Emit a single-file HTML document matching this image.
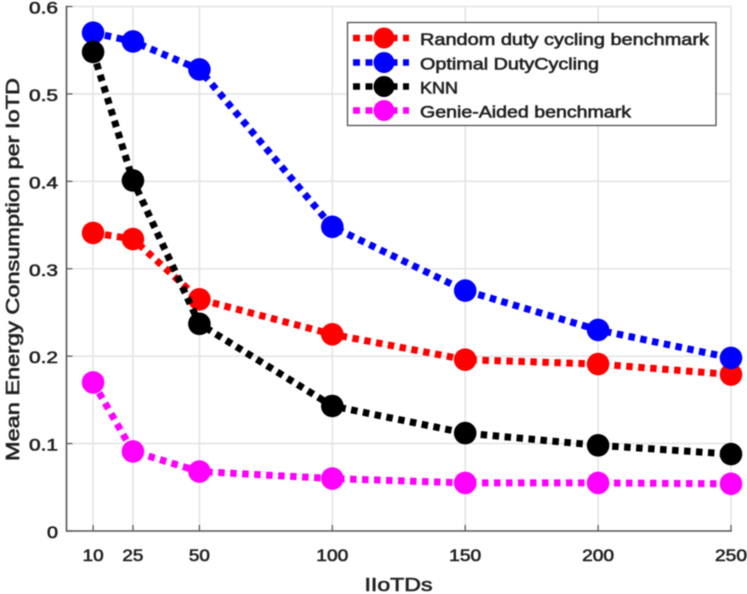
<!DOCTYPE html>
<html>
<head>
<meta charset="utf-8">
<title>Mean Energy Consumption per IoTD</title>
<style>
html,body{margin:0;padding:0;background:#fff;width:747px;height:594px;overflow:hidden}
svg{display:block;filter:blur(0.5px)}
text{font-family:"Liberation Sans",sans-serif;fill:#222;stroke:#222;stroke-width:0.6px}
</style>
</head>
<body>
<svg id="chart" width="747" height="594" viewBox="0 0 747 594" xmlns="http://www.w3.org/2000/svg"></svg>
<script>
const categories = [10, 25, 50, 100, 150, 200, 250];
const xTickLabels = ["10", "25", "50", "100", "150", "200", "250"];
const yTicks = [0, 0.1, 0.2, 0.3, 0.4, 0.5, 0.6];
const yTickLabels = ["0", "0.1", "0.2", "0.3", "0.4", "0.5", "0.6"];
const randomDuty = [0.341, 0.334, 0.265, 0.225, 0.196, 0.191, 0.179];
const optimalDuty = [0.570, 0.560, 0.528, 0.348, 0.275, 0.230, 0.198];
const knn = [0.548, 0.401, 0.237, 0.143, 0.112, 0.098, 0.088];
const genieAided = [0.170, 0.091, 0.068, 0.060, 0.055, 0.055, 0.054];
const seriesNames = ["Random duty cycling benchmark", "Optimal DutyCycling", "KNN", "Genie-Aided benchmark"];

const svg = document.getElementById('chart');
const NS = 'http://www.w3.org/2000/svg';
const plot = {left: 66.5, right: 731, top: 6.5, bottom: 531};
const xMax = 250, yMax = 0.6;
function xScale(v) { return plot.left + (plot.right - plot.left) * v / xMax; }
function yScale(v) { return plot.bottom - (plot.bottom - plot.top) * v / yMax; }
function make(tag, attrs, parent) {
  const el = document.createElementNS(NS, tag);
  for (const k in attrs) el.setAttribute(k, attrs[k]);
  (parent || svg).appendChild(el);
  return el;
}
function label(str, x, y, size, width, anchor, parent) {
  const t = make('text', {x: x, y: y, 'font-size': size, 'text-anchor': anchor, textLength: width, lengthAdjust: 'spacingAndGlyphs'}, parent);
  t.textContent = str;
  return t;
}

/* gridlines */
categories.forEach(function (c) {
  const g = make('line', {x1: xScale(c), x2: xScale(c), y1: plot.top, y2: plot.bottom, stroke: '#e4e4e4', 'stroke-width': 1.6});
  
  
});
yTicks.forEach(function (v) {
  if (v === 0) return;
  const g = make('line', {x1: plot.left, x2: plot.right, y1: yScale(v), y2: yScale(v), stroke: '#e4e4e4', 'stroke-width': 1.6});
  
  
});

/* axes */
const yAxis = make('line', {x1: plot.left, x2: plot.left, y1: plot.top - 0.8, y2: plot.bottom + 0.8, stroke: '#555', 'stroke-width': 1.6});


const xAxis = make('line', {x1: plot.left, x2: plot.right + 0.8, y1: plot.bottom, y2: plot.bottom, stroke: '#555', 'stroke-width': 1.6});



categories.forEach(function (c, i) {
  const t = make('line', {x1: xScale(c), x2: xScale(c), y1: plot.bottom, y2: plot.bottom - 6, stroke: '#555', 'stroke-width': 1.2});
  
  
  const s = xTickLabels[i];
  const l = label(s, xScale(c), 561, 16.5, s.length === 2 ? 21 : 32, 'middle');
  
  
});
yTicks.forEach(function (v, i) {
  const t = make('line', {x1: plot.left, x2: plot.left + 6, y1: yScale(v), y2: yScale(v), stroke: '#555', 'stroke-width': 1.2});
  
  
  const s = yTickLabels[i];
  const l = label(s, 58, yScale(v) + 7, 16.5, s.length === 1 ? 11 : 29, 'end');
  
  
});

/* axis titles */
const xTitle = label('IIoTDs', 398.5, 591, 18, 68, 'middle');


const yTitle = label('Mean Energy Consumption per IoTD', 0, 0, 18, 383, 'middle');
yTitle.setAttribute('transform', 'translate(19 269.5) rotate(-90)');



/* series */
const seriesValues = [randomDuty, optimalDuty, knn, genieAided];
const seriesColors = ['#ff0000', '#0000ff', '#000000', '#ff00ff'];
const seriesKeys = ['random-duty', 'optimal-duty', 'knn', 'genie-aided'];
const drawOrder = [0, 1, 2, 3];
drawOrder.forEach(function (si) {
  const g = make('g', {});
  
  
  const pts = seriesValues[si].map(function (v, i) { return xScale(categories[i]) + ',' + yScale(v); }).join(' ');
  const line = make('polyline', {points: pts, fill: 'none', stroke: seriesColors[si], 'stroke-width': 7, 'stroke-dasharray': '6.5 5.5'}, g);
  
  
  seriesValues[si].forEach(function (v, i) {
    const m = make('circle', {cx: xScale(categories[i]), cy: yScale(v), r: 11.3, fill: seriesColors[si]}, g);
    
    
  });
});

/* legend */
const legend = make('g', {});


const box = make('rect', {x: 347.5, y: 22.5, width: 368.5, height: 103, fill: '#fff', stroke: '#444', 'stroke-width': 1.2}, legend);


const rowY = [38, 62.5, 86.5, 110.5];
const textW = [289, 179, 38, 211];
seriesNames.forEach(function (name, i) {
  const row = make('g', {}, legend);
  
  
  make('line', {x1: 353, x2: 409, y1: rowY[i], y2: rowY[i], stroke: seriesColors[i], 'stroke-width': 6.5, 'stroke-dasharray': '7 5.5'}, row);
  make('circle', {cx: 384, cy: rowY[i], r: 10.5, fill: seriesColors[i]}, row);
  label(name, 420, rowY[i] + 7, 16.5, textW[i], 'start', row);
});
</script>
</body>
</html>
